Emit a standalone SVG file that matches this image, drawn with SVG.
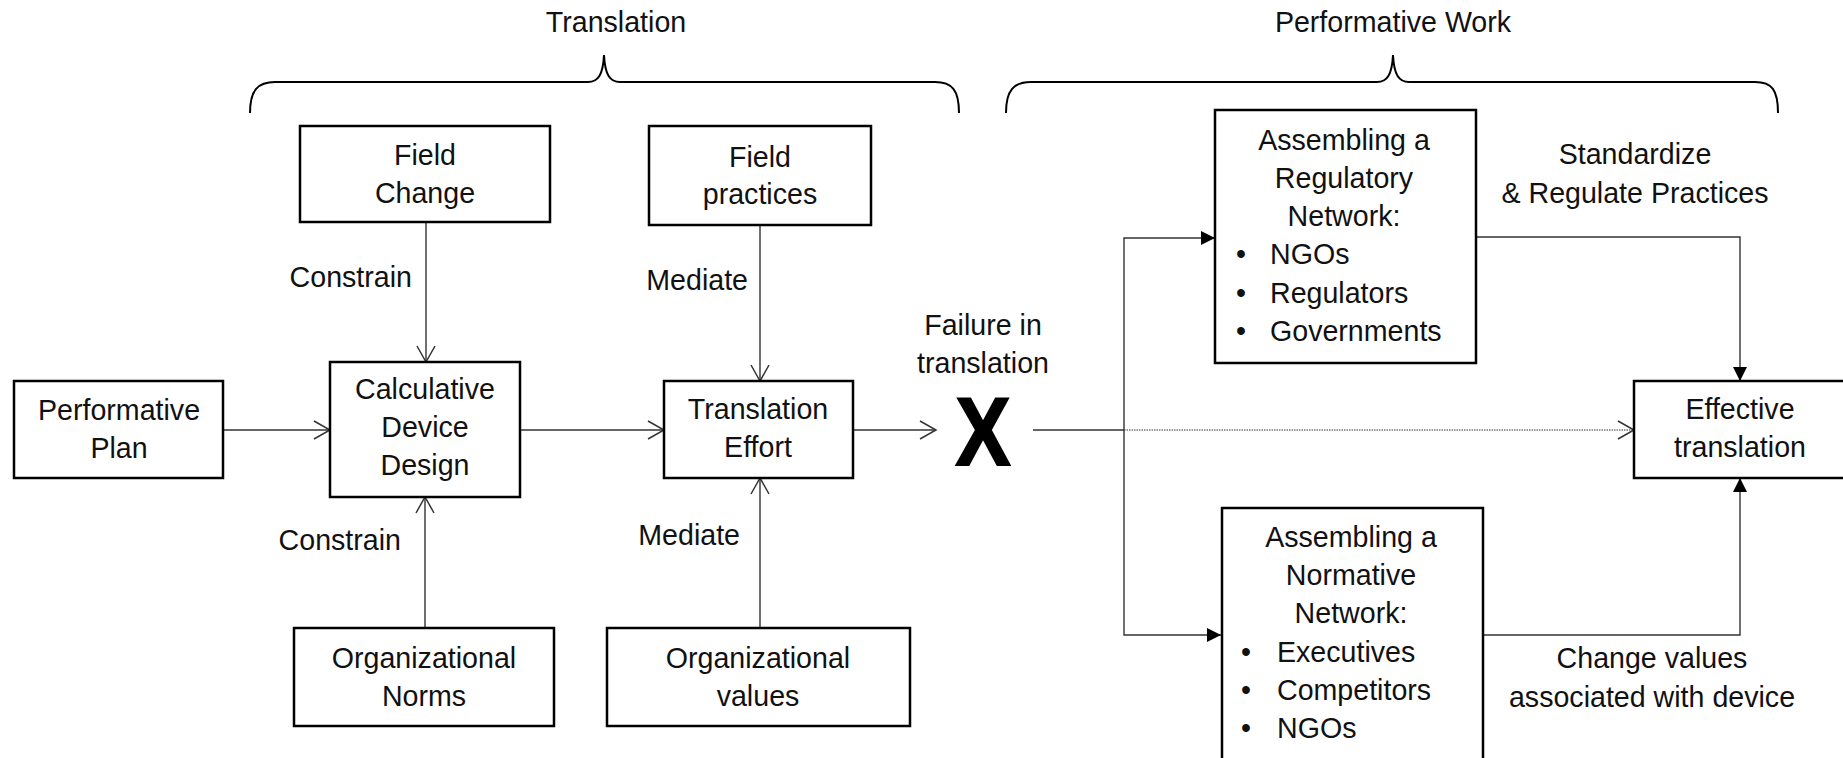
<svg xmlns="http://www.w3.org/2000/svg" width="1843" height="758" viewBox="0 0 1843 758">
<style>
text{font-family:"Liberation Sans",Arial,sans-serif;font-size:28.6px;fill:#111}
.c{text-anchor:middle}
.r{text-anchor:end}
.box{fill:#fff;stroke:#000;stroke-width:2.5}
.ln{fill:none;stroke:#333;stroke-width:1.4}
.brace{fill:none;stroke:#000;stroke-width:2}
</style>
<defs>
<marker id="open" markerUnits="userSpaceOnUse" markerWidth="20" markerHeight="22" refX="17" refY="10" orient="auto">
<path d="M1,1 L17,10 L1,19" fill="none" stroke="#333" stroke-width="1.5"/>
</marker>
<marker id="fill" markerUnits="userSpaceOnUse" markerWidth="16" markerHeight="16" refX="14" refY="7" orient="auto">
<path d="M0,0 L14,7 L0,14 z" fill="#000"/>
</marker>
</defs>
<rect width="1843" height="758" fill="#fff"/>

<g id="braces">
<path class="brace" d="M250,113 C250,90 258,82 275,82 L588,82 C598,82 603,75 604,55 C605,75 610,82 620,82 L935,82 C952,82 959,90 959,113"/>
<path class="brace" d="M1006,113 C1006,90 1014,82 1031,82 L1377,82 C1387,82 1392,75 1393,55 C1394,75 1399,82 1409,82 L1755,82 C1772,82 1778,90 1778,113"/>
<text class="c" x="616" y="32">Translation</text>
<text class="c" x="1393" y="32">Performative Work</text>
</g>

<g id="connectors">
<path class="ln" d="M223,430 L330,430" marker-end="url(#open)"/>
<path class="ln" d="M426,222 L426,362" marker-end="url(#open)"/>
<path class="ln" d="M425,628 L425,497" marker-end="url(#open)"/>
<path class="ln" d="M520,430 L664,430" marker-end="url(#open)"/>
<path class="ln" d="M760,225 L760,381" marker-end="url(#open)"/>
<path class="ln" d="M760,628 L760,478" marker-end="url(#open)"/>
<path class="ln" d="M853,430 L936,430" marker-end="url(#open)"/>
<path class="ln" d="M1033,430 L1124,430"/>
<path d="M1124,430 L1634,430" fill="none" stroke="#777" stroke-width="1.4" stroke-dasharray="1.5,1" marker-end="url(#open)"/>
<path class="ln" d="M1124,430 L1124,238 L1215,238" marker-end="url(#fill)"/>
<path class="ln" d="M1124,430 L1124,635 L1221,635" marker-end="url(#fill)"/>
<path class="ln" d="M1476,237 L1740,237 L1740,381" marker-end="url(#fill)"/>
<path class="ln" d="M1483,635 L1740,635 L1740,478" marker-end="url(#fill)"/>
<text class="r" x="412" y="287">Constrain</text>
<text class="r" x="401" y="550">Constrain</text>
<text class="r" x="748" y="290">Mediate</text>
<text class="r" x="740" y="545">Mediate</text>
<text class="c" x="1635" y="164">Standardize</text>
<text class="c" x="1635" y="203">&amp; Regulate Practices</text>
<text class="c" x="1652" y="668">Change values</text>
<text class="c" x="1652" y="707">associated with device</text>
</g>

<g id="performative-plan">
<rect class="box" x="14" y="381" width="209" height="97"/>
<text class="c" x="119" y="420">Performative</text>
<text class="c" x="119" y="458">Plan</text>
</g>

<g id="field-change">
<rect class="box" x="300" y="126" width="250" height="96"/>
<text class="c" x="425" y="165">Field</text>
<text class="c" x="425" y="203">Change</text>
</g>

<g id="calculative-device-design">
<rect class="box" x="330" y="362" width="190" height="135"/>
<text class="c" x="425" y="399">Calculative</text>
<text class="c" x="425" y="437">Device</text>
<text class="c" x="425" y="475">Design</text>
</g>

<g id="organizational-norms">
<rect class="box" x="294" y="628" width="260" height="98"/>
<text class="c" x="424" y="668">Organizational</text>
<text class="c" x="424" y="706">Norms</text>
</g>

<g id="field-practices">
<rect class="box" x="649" y="126" width="222" height="99"/>
<text class="c" x="760" y="167">Field</text>
<text class="c" x="760" y="204">practices</text>
</g>

<g id="translation-effort">
<rect class="box" x="664" y="381" width="189" height="97"/>
<text class="c" x="758" y="419">Translation</text>
<text class="c" x="758" y="457">Effort</text>
</g>

<g id="organizational-values">
<rect class="box" x="607" y="628" width="303" height="98"/>
<text class="c" x="758" y="668">Organizational</text>
<text class="c" x="758" y="706">values</text>
</g>

<g id="failure">
<text class="c" x="983" y="335">Failure in</text>
<text class="c" x="983" y="373">translation</text>
<text class="c" transform="translate(983,465) scale(0.85,1)" x="0" y="0" style="font-size:97px;font-weight:bold;fill:#000;stroke:#000;stroke-width:2">X</text>
</g>

<g id="regulatory-network">
<rect class="box" x="1215" y="110" width="261" height="253"/>
<text class="c" x="1344" y="150">Assembling a</text>
<text class="c" x="1344" y="188">Regulatory</text>
<text class="c" x="1344" y="226">Network:</text>
<text class="c" x="1241" y="264">•</text>
<text x="1270" y="264">NGOs</text>
<text class="c" x="1241" y="303">•</text>
<text x="1270" y="303">Regulators</text>
<text class="c" x="1241" y="341">•</text>
<text x="1270" y="341">Governments</text>
</g>

<g id="normative-network">
<rect class="box" x="1222" y="508" width="261" height="270"/>
<text class="c" x="1351" y="547">Assembling a</text>
<text class="c" x="1351" y="585">Normative</text>
<text class="c" x="1351" y="623">Network:</text>
<text class="c" x="1246" y="662">•</text>
<text x="1277" y="662">Executives</text>
<text class="c" x="1246" y="700">•</text>
<text x="1277" y="700">Competitors</text>
<text class="c" x="1246" y="738">•</text>
<text x="1277" y="738">NGOs</text>
</g>

<g id="effective-translation">
<rect class="box" x="1634" y="381" width="220" height="97"/>
<text class="c" x="1740" y="419">Effective</text>
<text class="c" x="1740" y="457">translation</text>
</g>
</svg>
